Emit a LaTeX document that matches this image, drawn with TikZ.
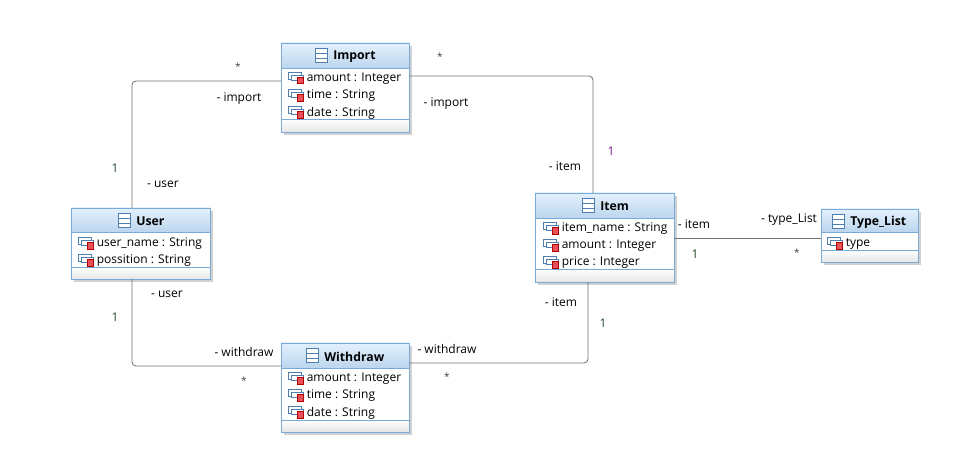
\documentclass[tikz,border=0pt]{standalone}
\usepackage{fontspec}
\setmainfont{Open Sans}
\definecolor{boxline}{HTML}{7AAAD8}
\definecolor{headtop}{HTML}{E3F0FC}
\definecolor{headbot}{HTML}{BCD6EE}
\definecolor{footbot}{HTML}{E6E6E6}
\definecolor{iconline}{HTML}{4F7FAE}
\definecolor{iconred}{HTML}{E8505A}
\definecolor{connline}{HTML}{707070}
\definecolor{multgreen}{HTML}{1F4A2A}
\definecolor{multpurple}{HTML}{6A1B8A}
\tikzset{
	classbox/.style={draw=boxline, line width=0.7pt, fill=white, rectangle, anchor=north west, inner sep=0pt, outer sep=0pt},
	classname/.style={font=\bfseries\fontsize{9.2}{11}\selectfont, anchor=west, inner sep=0pt, text=black},
	attrname/.style={font=\fontsize{9}{11}\selectfont, anchor=west, inner sep=0pt, text=black},
	conn/.style={draw=connline, line width=0.6pt, rounded corners=3pt},
	rolename/.style={font=\fontsize{9}{11}\selectfont, inner sep=0pt, text=black},
	mult/.style={font=\fontsize{9}{11}\selectfont, inner sep=0pt, text=multgreen},
	star/.style={font=\fontsize{7.5}{9}\selectfont, inner sep=0pt, text=black!75},
}
% class box: name, left, top, width, height, header bottom, divider, title x
\newcommand{\classbox}[8]{
	\fill[black!18] (#2+3,#3+3) rectangle (#2+#4+3,#3+#5+3);
	\node[classbox, minimum width=#4*0.75pt, minimum height=#5*0.75pt] (#1) at (#2,#3) {};
	\fill[top color=headtop, bottom color=headbot] (#2,#3) rectangle (#2+#4,#6);
	\fill[top color=white, bottom color=footbot] (#2,#7) rectangle (#2+#4,#3+#5);
	\draw[boxline, line width=0.7pt] (#2,#3) rectangle (#2+#4,#3+#5);
	\draw[boxline, line width=0.7pt] (#2,#6) -- (#2+#4,#6) (#2,#7) -- (#2+#4,#7);
	\draw[iconline, line width=0.6pt, fill=white] (#8-18,#3+5) rectangle (#8-6,#3+19);
	\draw[iconline, line width=0.6pt] (#8-18,#3+10.5) -- (#8-6,#3+10.5) (#8-18,#3+15) -- (#8-6,#3+15);
	\node[classname] (#1title) at (#8,#3+13.5) {\detokenize{#1}};
}
% attribute row: left of icon, y, text
\newcommand{\attrrow}[3]{
	\draw[iconline, line width=0.6pt, fill=white] (#1,#2-5) rectangle (#1+13,#2+2);
	\draw[iconline, line width=0.6pt, fill=white] (#1+3,#2-2) rectangle (#1+15,#2+3);
	\fill[iconred] (#1+9,#2) rectangle (#1+15.5,#2+6.5);
	\draw[red!70!black, line width=0.4pt] (#1+9,#2) rectangle (#1+15.5,#2+6.5);
	\node[attrname] at (#1+18.5,#2+1.5) {#3};
}
\begin{document}
\begin{tikzpicture}[x=0.75pt, y=-0.75pt]
	\path[use as bounding box] (0,0) rectangle (975,466);
	% classes
	\classbox{Import}{281}{43}{128}{89}{68}{119}{333}
	\attrrow{288}{77}{amount : Integer}
	\attrrow{288}{94.5}{time : String}
	\attrrow{288}{111.5}{date : String}
	\classbox{User}{71}{208}{139}{71}{232}{267}{136}
	\attrrow{78}{242.5}{user\_name : String}
	\attrrow{78}{259.5}{possition : String}
	\classbox{Item}{535}{193}{139}{89}{218}{269}{600}
	\attrrow{543}{227.5}{item\_name : String}
	\attrrow{543}{244.5}{amount : Integer}
	\attrrow{543}{261.5}{price : Integer}
	\classbox{Type_List}{821}{209}{97}{53}{232}{250}{850}
	\attrrow{827}{242.5}{type}
	\classbox{Withdraw}{281}{343}{128}{89}{368}{420}{324}
	\attrrow{288}{377.5}{amount : Integer}
	\attrrow{288}{394.5}{time : String}
	\attrrow{288}{411.5}{date : String}
	% connectors
	\draw[conn] (User.north -| 132,0) |- (Import.north west |- 0,81);
	\draw[conn] (User.south -| 132,0) |- (Withdraw.north west |- 0,366);
	\draw[conn] (Import.north east |- 0,76) -| (Item.north -| 593,0);
	\draw[conn] (Withdraw.north east |- 0,363) -| (Item.south -| 588,0);
	\draw[conn] (Item.north east |- 0,238) -- (Type_List.north west |- 0,238);
	% role names
	\node[rolename] (r1) at (239,98.5) {- import};
	\node[rolename] (r2) at (163,184.5) {- user};
	\node[rolename] (r3) at (446,103.5) {- import};
	\node[rolename] (r4) at (565,166) {- item};
	\node[rolename] (r5) at (694,224.5) {- item};
	\node[rolename] (r6) at (789,220) {- type\_List};
	\node[rolename] (r7) at (167,294.5) {- user};
	\node[rolename] (r8) at (244,352.5) {- withdraw};
	\node[rolename] (r9) at (447,349.5) {- withdraw};
	\node[rolename] (r10) at (561,302) {- item};
	% multiplicities
	\node[star] (m1) at (238,67) {*};
	\node[mult] (m2) at (115,168) {1};
	\node[star] (m3) at (440,57) {*};
	\node[mult, text=multpurple] (m4) at (611,151) {1};
	\node[mult] (m5) at (695,254) {1};
	\node[star] (m6) at (797,253) {*};
	\node[mult] (m7) at (115,317) {1};
	\node[star] (m8) at (244,381) {*};
	\node[star] (m9) at (447,377) {*};
	\node[mult] (m10) at (603,323) {1};
\end{tikzpicture}
\end{document}
